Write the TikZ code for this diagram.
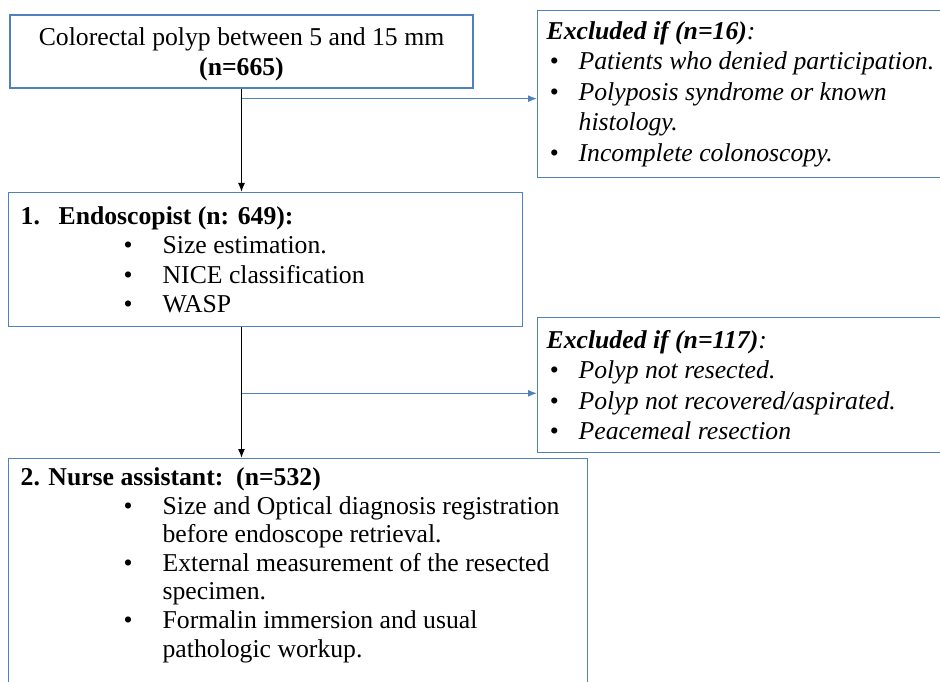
\documentclass[tikz,border=0pt]{standalone}
\usepackage{fontspec}
\setmainfont{Liberation Serif}
\usetikzlibrary{arrows.meta}
\definecolor{boxblue}{HTML}{4F81BD}
\newcommand{\exbul}{\makebox[32pt][l]{\hspace{3pt}\textbullet}}
\newcommand{\stepbul}{\hspace*{103pt}\makebox[39pt][l]{\textbullet}}

\begin{document}
\begin{tikzpicture}[x=1pt,y=-1pt]
		\tikzset{box/.style={draw=boxblue, line width=1.3pt, font=\fontsize{25.7pt}{30pt}\selectfont},
			listbox/.style={box, anchor=north west, align=flush left},
			exbox/.style={listbox, inner xsep=9pt, inner ysep=0pt, text width=420pt, font=\itshape\fontsize{25.7pt}{30.5pt}\selectfont},
			down/.style={-{Latex[length=9pt,width=7pt]}, line width=1.3pt, black},
			side/.style={-{Latex[length=9pt,width=7pt]}, line width=1.3pt, boxblue}};
		\useasboundingbox (0,0) rectangle (940,682);
		\clip (0,0) rectangle (940,682);
		% boxes
		\node[box, align=center, inner sep=0pt, minimum width=463pt, minimum height=73pt] (polyp) at (241.5,51.5) {\rule{0pt}{23.7pt}Colorectal polyp between 5 and 15 mm\\\textbf{(n=665)}};
		\node[exbox, minimum height=167pt] (excl1) at (537,10) {\textbf{Excluded if (n=16)}:\\
			\exbul Patients who denied participation.\\
			\exbul Polyposis syndrome or known\\
			\hspace*{32pt}histology.\\
			\exbul Incomplete colonoscopy.};
		\node[listbox, inner xsep=12pt, inner ysep=0pt, text width=490pt, minimum height=134pt, font=\fontsize{25.7pt}{29.5pt}\selectfont] (endo) at (8,192) {\textbf{\makebox[38pt][l]{1.}Endoscopist (n: 649):}\\
			\stepbul Size estimation.\\
			\stepbul NICE classification\\
			\stepbul WASP};
		\node[exbox, minimum height=135pt] (excl2) at (537,317) {\textbf{Excluded if (n=117)}:\\
			\exbul Polyp not resected.\\
			\exbul Polyp not recovered/aspirated.\\
			\exbul Peacemeal resection};
		\node[listbox, inner xsep=12pt, inner ysep=9pt, text width=555pt, font=\fontsize{25.7pt}{28.6pt}\selectfont] (nurse) at (8,458) {\textbf{2. Nurse assistant:\ \ (n=532)}\\
			\stepbul Size and Optical diagnosis registration\\
			\hspace*{142pt}before endoscope retrieval.\\
			\stepbul External measurement of the resected\\
			\hspace*{142pt}specimen.\\
			\stepbul Formalin immersion and usual\\
			\hspace*{142pt}pathologic workup.\rule[-60pt]{0pt}{0pt}};
		% connectors
		\coordinate (fork1) at ([yshift=-10pt]polyp.south);
		\path (endo.south -| polyp.south) ++(0,66) coordinate (fork2);
		\draw[down] (polyp.south) -- (polyp.south |- endo.north);
		\draw[side] (fork1) -- (fork1 -| excl1.west);
		\draw[down] (endo.south -| polyp.south) -- (nurse.north -| polyp.south);
		\draw[side] (fork2) -- (fork2 -| excl2.west);
	\end{tikzpicture}
\end{document}
